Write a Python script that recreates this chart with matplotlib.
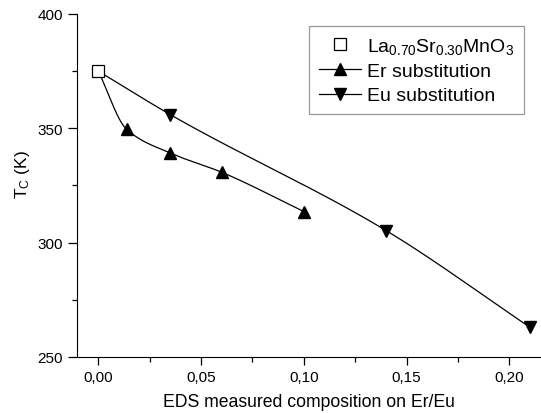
import numpy as np
import matplotlib
matplotlib.use("Agg")
import matplotlib.pyplot as plt
from matplotlib.ticker import MultipleLocator, FuncFormatter

plt.rcParams["font.family"] = ["Liberation Sans", "DejaVu Sans"]
plt.rcParams["mathtext.fontset"] = "custom"
plt.rcParams["mathtext.rm"] = "Liberation Sans"
plt.rcParams["mathtext.it"] = "Liberation Sans"

# data
lsmo_x = [0.0]
lsmo_y = [375.0]
er_x = [0.0, 0.0138, 0.035, 0.060, 0.100]
er_y = [375.0, 349.5, 339.2, 330.8, 313.6]
eu_x = [0.0, 0.035, 0.140, 0.210]
eu_y = [375.0, 356.0, 305.3, 263.0]


def smooth(x, y, n=200):
    # monotone cubic (Fritsch-Carlson) for the connecting line
    x = np.asarray(x, float)
    y = np.asarray(y, float)
    h = np.diff(x)
    d = np.diff(y) / h
    m = np.zeros_like(y)
    m[0], m[-1] = d[0], d[-1]
    for i in range(1, len(x) - 1):
        if d[i - 1] * d[i] > 0:
            w1 = 2 * h[i] + h[i - 1]
            w2 = h[i] + 2 * h[i - 1]
            m[i] = (w1 + w2) / (w1 / d[i - 1] + w2 / d[i])
    xs = np.linspace(x[0], x[-1], n)
    idx = np.clip(np.searchsorted(x, xs) - 1, 0, len(x) - 2)
    t = (xs - x[idx]) / h[idx]
    h00 = 2 * t ** 3 - 3 * t ** 2 + 1
    h10 = t ** 3 - 2 * t ** 2 + t
    h01 = -2 * t ** 3 + 3 * t ** 2
    h11 = t ** 3 - t ** 2
    ys = (h00 * y[idx] + h10 * h[idx] * m[idx]
          + h01 * y[idx + 1] + h11 * h[idx] * m[idx + 1])
    return xs, ys


fig = plt.figure(figsize=(5.41, 4.14), dpi=100)
ax = fig.add_axes([0.1423, 0.1353, 0.8577, 0.8285])

xs, ys = smooth(er_x, er_y)
ax.plot(xs, ys, color="black", lw=0.9)
xs, ys = smooth(eu_x, eu_y)
ax.plot(xs, ys, color="black", lw=0.9)

ax.plot(er_x[1:], er_y[1:], ls="none", marker="^", ms=8.5, color="black")
ax.plot(eu_x[1:], eu_y[1:], ls="none", marker="v", ms=8.5, color="black")
ax.plot(lsmo_x, lsmo_y, ls="none", marker="s", ms=8, mfc="white",
        mec="black", mew=0.9, zorder=5)

# legend proxies
h1, = ax.plot([], [], ls="none", marker="s", ms=8, mfc="white", mec="black", mew=0.9)
h2, = ax.plot([], [], color="black", lw=0.9, marker="^", ms=8.5)
h3, = ax.plot([], [], color="black", lw=0.9, marker="v", ms=8.5)
leg = fig.legend([h1, h2, h3],
                 [r"La$_{\mathregular{0.70}}$Sr$_{\mathregular{0.30}}$MnO$_{\mathregular{3}}$",
                  "Er substitution", "Eu substitution"],
                 loc="upper left", bbox_to_anchor=(0.571, 0.935),
                 fontsize=14, frameon=True, fancybox=False, handlelength=2.2,
                 borderpad=0.5, labelspacing=0.35, handletextpad=0.3,
                 borderaxespad=0)
leg.get_frame().set_edgecolor("#808080")
leg.get_frame().set_linewidth(0.9)

ax.set_xlim(-0.0104, 0.2154)
ax.set_ylim(250, 400)
ax.spines["top"].set_visible(False)
ax.spines["right"].set_visible(False)
ax.xaxis.set_major_locator(MultipleLocator(0.05))
ax.xaxis.set_minor_locator(MultipleLocator(0.025))
ax.yaxis.set_major_locator(MultipleLocator(50))
ax.yaxis.set_minor_locator(MultipleLocator(25))
ax.xaxis.set_major_formatter(FuncFormatter(lambda v, p: f"{v:.2f}".replace(".", ",")))
ax.tick_params(which="major", direction="out", length=6, width=0.9, labelsize=11,
               colors="black")
ax.tick_params(which="minor", direction="out", length=3.5, width=0.9)
ax.tick_params(axis="y", which="major", length=6.5)

ax.set_xlabel("EDS measured composition on Er/Eu", fontsize=12.7, labelpad=6)
ax.set_ylabel(r"T$_{\mathregular{C}}$ (K)", fontsize=12.5)
ax.yaxis.set_label_coords(-0.097, 0.536)

fig.savefig("out.png", dpi=100)
